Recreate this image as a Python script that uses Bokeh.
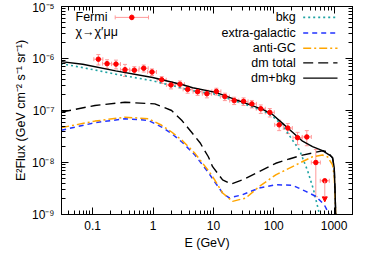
import numpy as np
from bokeh.plotting import figure
from bokeh.models import (LogAxis, FixedTicker, CustomJSTickFormatter, Range1d,
                          Whisker, TeeHead, NormalHead, ColumnDataSource, Arrow,
                          LinearScale)
from bokeh.core.properties import value
from bokeh.embed import file_html
from bokeh.resources import INLINE

# ---------------- data ----------------
fermi_E = [0.124, 0.173, 0.243, 0.343, 0.49, 0.70, 0.96, 1.39, 1.98, 2.79, 3.74, 5.47, 7.8,
           11.2, 15.5, 22.1, 31.6, 43.4, 61, 86, 123, 171, 248, 353, 498]
fermi_F = [9.7e-7, 7.96e-7, 7.8e-7, 6.1e-7, 5.96e-7, 6.5e-7, 5.5e-7, 3.9e-7, 3.1e-7, 3.2e-7,
           2.55e-7, 2.3e-7, 2.1e-7, 2.33e-7, 1.85e-7, 1.55e-7, 1.5e-7, 1.34e-7, 1.08e-7, 9.2e-8,
           5.3e-8, 4.6e-8, 3.0e-8, 3.1e-8, 1.0e-8]
fermi_err = [2.2e-7, 1.5e-7, 1.5e-7, 1.6e-7, 1.0e-7, 1.0e-7, 0.8e-7, 0.6e-7, 0.5e-7, 0.5e-7,
             0.4e-7, 0.35e-7, 0.35e-7, 0.35e-7, 0.3e-7, 0.25e-7, 0.25e-7, 0.22e-7, 0.2e-7, 1.7e-8,
             1.2e-8, 1.0e-8, 0.8e-8, 1.0e-8, 0.78e-8]
ul_E = [701]
ul_F = [4.45e-9]
ul_tip = [1.75e-9]
bin_half_dex = 0.075

bkg_E = [0.03, 0.0683, 0.240, 0.984, 4.53, 10.9, 30.4, 65.3, 95.5, 140, 205, 267, 363, 456, 573, 650]
bkg_F = [7.96e-7, 6.68e-7, 5.0e-7, 3.73e-7, 2.40e-7, 2.06e-7, 1.36e-7, 1.0e-7, 7.69e-8, 5.18e-8,
         2.68e-8, 1.73e-8, 7.0e-9, 3.0e-9, 1.0e-9, 4e-10]

eg_E = [0.03, 0.109, 0.343, 0.836, 1.39, 2.03, 3.1, 4.94, 8.34, 10.5, 14.2, 18.3, 30.4, 57.5,
        108, 205, 340, 498, 685, 830, 906]
eg_F = [4.16e-8, 5.83e-8, 6.95e-8, 6.45e-8, 4.8e-8, 3.60e-8, 2.4e-8, 1.39e-8, 6.31e-9, 4.25e-9,
        2.59e-9, 2.08e-9, 2.40e-9, 3.23e-9, 3.73e-9, 3.65e-9, 2.78e-9, 2.23e-9, 1.55e-9, 1.0e-9, 5e-10]

agc_E = [0.03, 0.109, 0.343, 0.836, 1.39, 2.03, 3.1, 4.94, 8.34, 10.5, 14.2, 20.8, 34.5, 57.5,
         108, 264, 439, 643, 778, 942, 1005, 1036, 1075]
agc_F = [4.68e-8, 6.25e-8, 7.44e-8, 6.95e-8, 5.2e-8, 3.86e-8, 2.6e-8, 1.50e-8, 6.89e-9, 4.64e-9,
         2.59e-9, 1.79e-9, 2.08e-9, 3.46e-9, 5.78e-9, 9.66e-9, 1.29e-8, 1.39e-8, 1.29e-8, 8.96e-9,
         5.37e-9, 2.4e-9, 6e-10]

dm_E = [0.03, 0.109, 0.343, 1.07, 2.03, 2.98, 4.35, 6.0, 8.24, 9.70, 14.2, 19.5, 30.4, 57.5,
        108, 181, 300, 643, 778, 942, 1005, 1036, 1075]
dm_F = [9.3e-8, 1.25e-7, 1.44e-7, 1.34e-7, 1.0e-7, 6.5e-8, 3.81e-8, 2.4e-8, 1.29e-8, 8.31e-9,
        4.64e-9, 3.85e-9, 4.64e-9, 6.68e-9, 9.66e-9, 1.17e-8, 1.39e-8, 1.68e-8, 1.61e-8, 1.22e-8,
        8.0e-9, 3.0e-9, 6e-10]

tot_E = [0.03, 0.0683, 0.240, 0.984, 3.09, 4.53, 10.9, 30.4, 65.3, 95.5, 140, 205, 300, 439,
         643, 839, 942, 1005, 1036, 1075]
tot_F = [8.7e-7, 7.76e-7, 5.78e-7, 4.31e-7, 3.13e-7, 2.74e-7, 2.23e-7, 1.45e-7, 1.05e-7, 8.39e-8,
         5.65e-8, 3.81e-8, 2.57e-8, 2.02e-8, 1.69e-8, 1.39e-8, 1.25e-8, 8.0e-9, 3.0e-9, 6e-10]

x_ticks = [0.1, 1, 10, 100, 1000]
x_tick_labels = ["0.1", "1", "10", "100", "1000"]
y_exps = [-9, -8, -7, -6, -5]
y_tick_labels = ["10⁻⁹", "10⁻⁸", "10⁻⁷", "10⁻⁶", "10⁻⁵"]

series_labels = ["bkg", "extra-galactic", "anti-GC", "dm total", "dm+bkg"]
fermi_label = "Fermi"
model_label = "χ→χ′μμ"

# ---------------- styles ----------------
FONT = "Liberation Sans"
C_BKG = "#1fa3a3"
C_EG = "#2233ff"
C_AGC = "#ffa500"
C_DM = "black"
C_PT = "#ff0000"
C_ERR = "#ff9a9a"
series_styles = [
    dict(line_color=C_BKG, line_dash="2 3", line_width=1.6),
    dict(line_color=C_EG, line_dash="5 4", line_width=1.5),
    dict(line_color=C_AGC, line_dash="8 3 2 3", line_width=1.5),
    dict(line_color=C_DM, line_dash="10 5", line_width=1.4),
    dict(line_color=C_DM, line_width=1.4),
]

p = figure(x_axis_type="log", y_axis_type="log",
           x_range=Range1d(0.0304, 2018), y_range=Range1d(1e-9, 1e-5),
           frame_width=291, frame_height=208,
           min_border_left=61, min_border_right=11, min_border_top=6, min_border_bottom=36,
           output_backend="svg", toolbar_location=None)
p.xgrid.visible = False
p.ygrid.visible = False
p.outline_line_color = "black"
p.outline_line_width = 1
p.background_fill_color = "white"
p.border_fill_color = "white"

x_minor = [m * 10.0 ** k for k in range(-2, 4) for m in range(2, 10)]
y_minor = [m * 10.0 ** k for k in range(-9, -5) for m in range(2, 10)]

xfmt = CustomJSTickFormatter(args=dict(vals=x_ticks, labels=x_tick_labels), code="""
const i = vals.findIndex(v => Math.abs(Math.log10(v) - Math.log10(tick)) < 1e-6);
return i >= 0 ? labels[i] : "";
""")
yfmt = CustomJSTickFormatter(args=dict(exps=y_exps, labels=y_tick_labels), code="""
const e = Math.round(Math.log10(tick));
const i = exps.indexOf(e);
return i >= 0 ? labels[i] : "";
""")
blank = CustomJSTickFormatter(code="return '';")


def style_axis(ax):
    ax.major_tick_in = 7
    ax.major_tick_out = 0
    ax.minor_tick_in = 4
    ax.minor_tick_out = 0
    ax.axis_line_color = "black"
    ax.major_tick_line_color = "black"
    ax.minor_tick_line_color = "black"
    ax.major_label_text_font = FONT
    ax.major_label_text_font_size = "12px"
    ax.major_label_text_color = "black"
    ax.axis_label_text_font = FONT
    ax.axis_label_text_font_size = "12.5px"
    ax.axis_label_text_font_style = "normal"
    ax.axis_label_text_color = "black"


xa = p.xaxis[0]
xa.ticker = FixedTicker(ticks=x_ticks, minor_ticks=x_minor)
xa.formatter = xfmt
xa.axis_label = "E (GeV)"
style_axis(xa)
xa.major_label_standoff = 6
xa.axis_label_standoff = 3

ya = p.yaxis[0]
ya.ticker = FixedTicker(ticks=[10.0 ** e for e in y_exps], minor_ticks=y_minor)
ya.formatter = yfmt
ya.axis_label = "E²Flux (GeV cm⁻² s⁻¹ sr⁻¹)"
style_axis(ya)
ya.major_label_standoff = 7
ya.axis_label_standoff = 1

top = LogAxis(ticker=FixedTicker(ticks=x_ticks, minor_ticks=x_minor), formatter=blank)
style_axis(top)
top.major_label_standoff = 0
p.add_layout(top, "above")
right = LogAxis(ticker=FixedTicker(ticks=[10.0 ** e for e in y_exps], minor_ticks=y_minor),
                formatter=blank)
style_axis(right)
right.major_label_standoff = 0
p.add_layout(right, "right")

# ---------------- curves ----------------
curves = [(bkg_E, bkg_F), (eg_E, eg_F), (agc_E, agc_F), (dm_E, dm_F), (tot_E, tot_F)]
for (xs, ys), st in zip(curves, series_styles):
    p.line(xs, ys, **st)

# ---------------- Fermi data ----------------
fE = np.array(fermi_E)
fF = np.array(fermi_F)
fe = np.array(fermi_err)
src = ColumnDataSource(dict(E=fE, F=fF, Flo=fF - fe, Fhi=fF + fe,
                            Elo=fE / 10 ** bin_half_dex, Ehi=fE * 10 ** bin_half_dex))
p.add_layout(Whisker(source=src, base="E", lower="Flo", upper="Fhi", dimension="height",
                     line_color=C_ERR, line_width=1,
                     lower_head=TeeHead(size=4, line_color=C_ERR, line_width=1),
                     upper_head=TeeHead(size=4, line_color=C_ERR, line_width=1)))
p.add_layout(Whisker(source=src, base="F", lower="Elo", upper="Ehi", dimension="width",
                     line_color=C_ERR, line_width=1,
                     lower_head=TeeHead(size=4, line_color=C_ERR, line_width=1),
                     upper_head=TeeHead(size=4, line_color=C_ERR, line_width=1)))

uE = np.array(ul_E, dtype=float)
usrc = ColumnDataSource(dict(E=uE, F=ul_F, tip=ul_tip,
                             Elo=uE / 10 ** bin_half_dex, Ehi=uE * 10 ** bin_half_dex))
p.add_layout(Whisker(source=usrc, base="F", lower="Elo", upper="Ehi", dimension="width",
                     line_color=C_ERR, line_width=1,
                     lower_head=TeeHead(size=4, line_color=C_ERR, line_width=1),
                     upper_head=TeeHead(size=4, line_color=C_ERR, line_width=1)))
p.add_layout(Arrow(source=usrc, x_start="E", y_start="F", x_end="E", y_end="tip",
                   line_color=C_ERR, line_width=1,
                   end=NormalHead(size=5, fill_color=C_PT, line_color=C_PT, line_width=1)))
p.scatter("E", "F", source=src, marker="circle", size=4.5, fill_color=C_PT, line_color=C_PT)
p.scatter("E", "F", source=usrc, marker="circle", size=4.5, fill_color=C_PT, line_color=C_PT)

# ---------------- legends (frame-pixel coordinates) ----------------
p.extra_x_ranges = {"px": Range1d(0, 291)}
p.extra_y_ranges = {"py": Range1d(210, 0)}
p.extra_x_scales = {"px": LinearScale()}
p.extra_y_scales = {"py": LinearScale()}
leg = dict(x_range_name="px", y_range_name="py")
tstyle = dict(text_font=value(FONT), text_font_size=value("12.5px"), text_color="black",
              text_baseline="middle")

p.text(x=[14, 14], y=[11, 25.7], text=[fermi_label, model_label], text_align="left",
       **tstyle, **leg)
p.segment(x0=[53.7], y0=[11], x1=[87], y1=[11], line_color=C_ERR, line_width=1, **leg)
p.segment(x0=[53.7, 87], y0=[9, 9], x1=[53.7, 87], y1=[13, 13], line_color=C_ERR,
          line_width=1, **leg)
p.segment(x0=[70.3], y0=[8], x1=[70.3], y1=[14], line_color=C_ERR, line_width=1, **leg)
p.scatter(x=[70.3], y=[11], marker="circle", size=4.5, fill_color=C_PT, line_color=C_PT, **leg)

leg_y = [11, 26.7, 42.1, 56.9, 72.3]
p.text(x=[234.3] * 5, y=leg_y, text=series_labels, text_align="right", **tstyle, **leg)
for yy, st in zip(leg_y, series_styles):
    p.line(x=[241.7, 276], y=[yy, yy], **st, **leg)

open("out.html", "w").write(file_html(p, INLINE))
